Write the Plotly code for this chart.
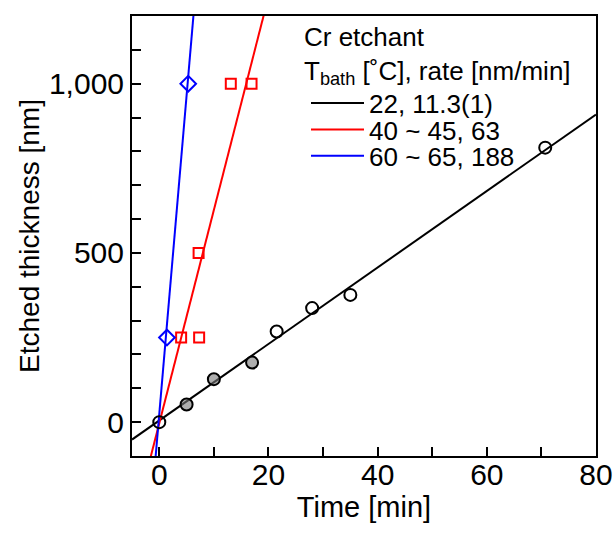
import plotly.graph_objects as go

# --- data ---
black_t = [0, 5, 10, 17, 21.5, 28, 35, 70.7]
black_d = [0, 52, 127, 176, 268, 337, 376, 811]
black_fill = ["rgba(0,0,0,0)", "rgba(120,120,120,0.6)", "rgba(120,120,120,0.6)",
              "rgba(120,120,120,0.6)", "rgba(0,0,0,0)", "rgba(0,0,0,0)",
              "rgba(0,0,0,0)", "rgba(0,0,0,0)"]

red_t = [4.0, 7.3, 7.2, 13.1, 16.9]
red_d = [250, 250, 500, 1000, 1000]

blue_t = [1.4, 5.3]
blue_d = [250, 1000]

# linear fits: (slope nm/min, intercept nm)
fit_black = (11.3, 5)
fit_red = (63, -3)
fit_blue = (188, 25)

legend_names = ["22, 11.3(1)", "40 ~ 45, 63", "60 ~ 65, 188"]
legend_title = "Cr etchant<br>T<sub>bath</sub> [˚C], rate [nm/min]"
colors = ["black", "#ff0000", "#0000ff"]

x_range = [-5, 80]
y_range = [-100, 1200]
# tick positions (major labelled, minor unlabelled)
x_tick_vals = [0, 10, 20, 30, 40, 50, 60, 70, 80]
x_major_vals = [0, 20, 40, 60, 80]
y_tick_vals = [0, 100, 200, 300, 400, 500, 600, 700, 800, 900, 1000, 1100]
y_major_vals = [0, 500, 1000]

x_tick_text = [f"{v:d}" if v in x_major_vals else "" for v in x_tick_vals]
y_tick_text = [f"{v:,d}" if v in y_major_vals else "" for v in y_tick_vals]

FONT = "Arial, Liberation Sans, sans-serif"
LEG_SIZE = 26

fig = go.Figure()

legend_ids = ["legend", "legend2", "legend3"]
for (slope, icpt), name, col, lid in zip([fit_black, fit_red, fit_blue], legend_names, colors, legend_ids):
    xs = [x_range[0], x_range[1]]
    ys = [slope * x + icpt for x in xs]
    fig.add_trace(go.Scatter(x=xs, y=ys, mode="lines", name=name, legend=lid,
                             line=dict(color=col, width=2), showlegend=True))

fig.add_trace(go.Scatter(x=black_t, y=black_d, mode="markers", showlegend=False,
                         marker=dict(symbol="circle", size=12, color=black_fill,
                                     line=dict(color="black", width=2))))
fig.add_trace(go.Scatter(x=red_t, y=red_d, mode="markers", showlegend=False,
                         marker=dict(symbol="square-open", size=10, color="#ff0000",
                                     line=dict(width=2))))
fig.add_trace(go.Scatter(x=blue_t, y=blue_d, mode="markers", showlegend=False,
                         marker=dict(symbol="diamond-open", size=12, color="#0000ff",
                                     line=dict(width=2))))

leg_common = dict(xanchor="left", yanchor="middle", bgcolor="rgba(0,0,0,0)",
                  font=dict(size=LEG_SIZE, family=FONT, color="black"),
                  itemwidth=53, borderwidth=0)
leg_x = 0.375

fig.update_layout(
    template="none",
    width=614, height=535,
    margin=dict(l=132, r=18, t=16, b=79, autoexpand=False),
    paper_bgcolor="white", plot_bgcolor="white",
    font=dict(family=FONT, color="black"),
    showlegend=True,
    legend=dict(x=leg_x, y=0.802, **leg_common),
    legend2=dict(x=leg_x, y=0.742, **leg_common),
    legend3=dict(x=leg_x, y=0.682, **leg_common),
    annotations=[dict(text=legend_title, xref="paper", yref="paper",
                      x=0.3665, y=0.911, xanchor="left", yanchor="middle",
                      align="left", showarrow=False,
                      font=dict(size=LEG_SIZE, family=FONT, color="black"))],
    xaxis=dict(
        range=x_range, tickmode="array", tickvals=x_tick_vals, ticktext=x_tick_text,
        automargin=False,
        ticks="inside", ticklen=9, tickwidth=2, tickcolor="black",
        ticklabelstandoff=-9,
        showline=True, linewidth=2, linecolor="black", mirror=True,
        showgrid=False, zeroline=False,
        tickfont=dict(size=30, family=FONT),
        title=dict(text="Time [min]", font=dict(size=29, family=FONT), standoff=5),
    ),
    yaxis=dict(
        range=y_range, tickmode="array", tickvals=y_tick_vals, ticktext=y_tick_text,
        automargin=False,
        ticks="inside", ticklen=9, tickwidth=2, tickcolor="black",
        showline=True, linewidth=2, linecolor="black", mirror=True,
        showgrid=False, zeroline=False,
        tickfont=dict(size=30, family=FONT),
        title=dict(text="Etched thickness [nm]", font=dict(size=28, family=FONT), standoff=1),
    ),
)

fig.write_html("out.html", post_script="document.body.style.margin='0px';",
               config={"displayModeBar": False})
